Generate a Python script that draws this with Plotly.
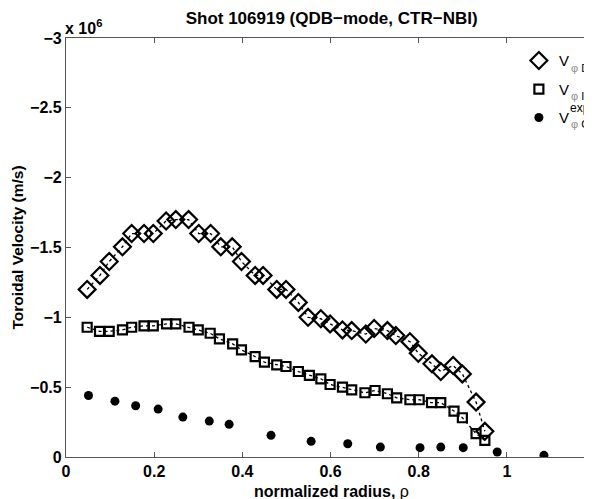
import plotly.graph_objects as go

# V_phi_D (diamonds), units of 1e6 m/s
rho_D = [0.048, 0.077, 0.098, 0.128, 0.149, 0.177, 0.198, 0.227, 0.249, 0.278,
         0.301, 0.328, 0.351, 0.377, 0.398, 0.429, 0.447, 0.478, 0.499, 0.527,
         0.549, 0.578, 0.599, 0.627, 0.648, 0.680, 0.699, 0.729, 0.748, 0.780,
         0.799, 0.830, 0.850, 0.878, 0.899, 0.930, 0.950]
v_D = [-1.20, -1.30, -1.40, -1.505, -1.60, -1.60, -1.60, -1.69, -1.70, -1.70,
       -1.60, -1.60, -1.505, -1.505, -1.40, -1.30, -1.30, -1.20, -1.20, -1.107,
       -1.00, -0.99, -0.953, -0.91, -0.905, -0.88, -0.92, -0.905, -0.87, -0.826,
       -0.743, -0.667, -0.612, -0.655, -0.595, -0.393, -0.184]

# V_phi_I (squares)
rho_I = [0.048, 0.076, 0.098, 0.128, 0.149, 0.177, 0.198, 0.228, 0.249, 0.279,
         0.300, 0.327, 0.348, 0.378, 0.398, 0.429, 0.450, 0.478, 0.499, 0.527,
         0.552, 0.578, 0.599, 0.627, 0.648, 0.678, 0.701, 0.729, 0.750, 0.780,
         0.801, 0.829, 0.850, 0.880, 0.899, 0.930, 0.950]
v_I = [-0.929, -0.90, -0.90, -0.91, -0.929, -0.939, -0.939, -0.953, -0.953, -0.929,
       -0.91, -0.886, -0.846, -0.81, -0.767, -0.719, -0.679, -0.66, -0.648, -0.612,
       -0.584, -0.56, -0.519, -0.50, -0.481, -0.46, -0.476, -0.453, -0.424, -0.41,
       -0.41, -0.389, -0.389, -0.329, -0.281, -0.167, -0.119]

# V_phi_C experimental (filled dots)
rho_C = [0.051, 0.111, 0.158, 0.209, 0.265, 0.325, 0.370, 0.465, 0.556, 0.639,
         0.713, 0.803, 0.850, 0.901, 0.978, 1.084]
v_C = [-0.44, -0.40, -0.367, -0.343, -0.286, -0.257, -0.234, -0.155, -0.112, -0.095,
       -0.071, -0.067, -0.071, -0.067, -0.036, -0.012]

x_ticks = [0, 0.2, 0.4, 0.6, 0.8, 1]
x_ticktext = ["0", "0.2", "0.4", "0.6", "0.8", "1"]
y_ticks = [0, -0.5, -1, -1.5, -2, -2.5, -3]
y_ticktext = ["0", "\u22120.5", "\u22121", "\u22121.5", "\u22122", "\u22122.5", "\u22123"]

# legend labels: main letter plus subscript / superscript parts
legend_main = ["V", "V", "V"]
legend_sub = ["D", "I", "C"]
legend_sup = ["", "", "exp"]

FONT = "Liberation Sans, Arial, sans-serif"
PHI = "<span style='color:#8a8a8a'>\u03c6</span>"

fig = go.Figure()
# dotted connecting lines (no legend)
fig.add_trace(go.Scatter(x=rho_D, y=v_D, mode="lines", showlegend=False, hoverinfo="skip",
                         line=dict(color="black", width=1.3, dash="dot")))
fig.add_trace(go.Scatter(x=rho_I, y=v_I, mode="lines", showlegend=False, hoverinfo="skip",
                         line=dict(color="black", width=1.3, dash="dot")))
# markers
fig.add_trace(go.Scatter(
    x=rho_D, y=v_D, mode="markers", name=legend_main[0], legendgroup="a",
    marker=dict(symbol="diamond-open", size=13, color="black", line=dict(width=2.2, color="black")),
))
fig.add_trace(go.Scatter(
    x=rho_I, y=v_I, mode="markers", name=legend_main[1], legendgroup="b",
    marker=dict(symbol="square-open", size=9, color="black", line=dict(width=2.2, color="black")),
))
fig.add_trace(go.Scatter(
    x=rho_C, y=v_C, mode="markers", name=legend_main[2], legendgroup="c",
    marker=dict(symbol="circle", size=9, color="black", line=dict(width=0)),
))

axis_common = dict(
    showline=True, linecolor="#555555", linewidth=1.3, mirror="ticks",
    ticks="inside", ticklen=5, tickcolor="#555555", tickwidth=1,
    showgrid=False, zeroline=False, automargin=False,
    tickfont=dict(family=FONT, size=16, color="black", weight="bold"),
)

# page body adds an 8px offset, so the figure is 584x491 and margins are shifted by 8px
fig.update_layout(
    width=584, height=491,
    margin=dict(l=58, r=0, t=30, b=42),
    plot_bgcolor="white", paper_bgcolor="white",
    font=dict(family=FONT, color="black"),
    title=dict(text="<b>Shot 106919 (QDB\u2212mode, CTR\u2212NBI)</b>", xref="paper", x=0.505,
               xanchor="center", yref="container", y=1 - 10 / 491, yanchor="middle",
               font=dict(size=17, family=FONT, color="black")),
    xaxis=dict(range=[0, 1.193], tickvals=x_ticks, ticktext=x_ticktext, **axis_common),
    yaxis=dict(range=[0, -3], tickvals=y_ticks, ticktext=y_ticktext, **axis_common),
    legend=dict(x=0.861, y=0.985, xanchor="left", yanchor="top",
                bgcolor="rgba(0,0,0,0)", borderwidth=0,
                font=dict(size=15, family=FONT, color="black"),
                traceorder="grouped", tracegroupgap=6, itemwidth=30),
    showlegend=True,
)

# axis titles
fig.add_annotation(xref="paper", yref="paper", x=0.505, y=-0.083, xanchor="center", yanchor="middle",
                   text="<b>normalized radius, </b>\u03c1", showarrow=False,
                   font=dict(size=16, family=FONT, color="black"))
fig.add_annotation(xref="paper", yref="paper", x=-0.093, y=0.50, xanchor="center", yanchor="middle",
                   text="<b>Toroidal Velocity (m/s)</b>", showarrow=False, textangle=-90,
                   font=dict(size=15.5, family=FONT, color="black"))
# exponent label
fig.add_annotation(xref="paper", yref="paper", x=0.0, y=1.0, xanchor="left", yanchor="bottom",
                   text="<b>x 10<sup>6</sup></b>", showarrow=False,
                   font=dict(size=16, family=FONT, color="black"), xshift=-3, yshift=-1)

# legend subscripts / superscripts (stacked like the original)
sub_y = [0.928, 0.8616, 0.795]
for s, yy in zip(legend_sub, sub_y):
    fig.add_annotation(xref="paper", yref="paper", x=0.956, y=yy, xanchor="left", yanchor="middle",
                       text=PHI + " " + s, showarrow=False,
                       font=dict(size=11, family=FONT, color="black"))
for s, yy in zip(legend_sup, sub_y):
    if s:
        fig.add_annotation(xref="paper", yref="paper", x=0.954, y=yy + 0.038, xanchor="left",
                           yanchor="middle", text=s, showarrow=False,
                           font=dict(size=12, family=FONT, color="black"))

fig.write_html("out.html")
